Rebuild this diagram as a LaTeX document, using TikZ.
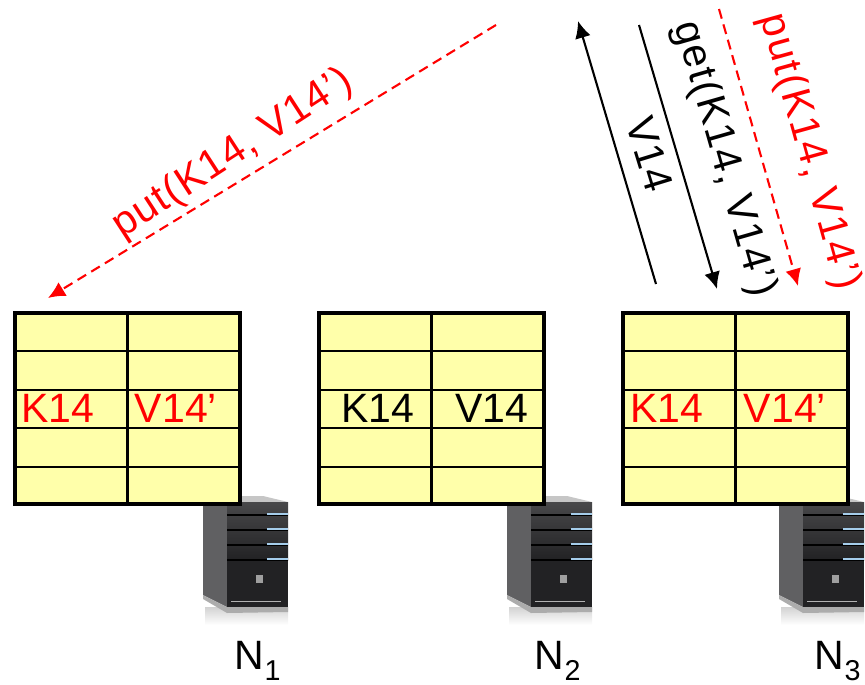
\documentclass[tikz,border=0pt]{standalone}
\usepackage{fontspec}
\setmainfont{Liberation Sans}
\usetikzlibrary{arrows.meta}
\definecolor{cellyellow}{RGB}{255,255,170}
\definecolor{srvdark}{RGB}{34,34,36}
\definecolor{srvmid}{RGB}{72,72,74}
\definecolor{srvside}{RGB}{96,96,98}
\definecolor{srvled}{RGB}{165,205,235}
\tikzset{
  lab/.style={font=\fontsize{41}{48}\selectfont,inner sep=0pt,anchor=center},
  red lab/.style={lab,text=red},
  wide lab/.style={lab,font=\fontsize{41}{48}\selectfont\addfontfeature{LetterSpace=3}},
  wide red lab/.style={wide lab,text=red},
  wider lab/.style={lab,font=\fontsize{41}{48}\selectfont\addfontfeature{LetterSpace=4.5}},
  wider red lab/.style={wider lab,text=red},
  tip/.style={-{Latex[length=17pt,width=16pt]}},
  arrow black/.style={tip,black,line width=2.1pt},
  arrow red/.style={tip,red,line width=2.1pt,dash pattern=on 10pt off 6pt},
  grid line/.style={black,line width=2.1pt},
  frame line/.style={black,line width=3.6pt},
  pics/dbtable/.style={code={
    \fill[cellyellow] (0,0) rectangle (225,191);
    \foreach \yy in {38,77,115,154} \draw[grid line] (0,\yy) -- (225,\yy);
    \draw[grid line] (112.5,0) -- (112.5,191);
    \draw[frame line] (0,0) rectangle (225,191);
  }},
  pics/srv/.style={code={
    % origin = top-left of the server image
    \shade[top color=gray!35,bottom color=white] (2,112) rectangle (85,130);
    \fill[gray!45] (0,8) -- (24,1) -- (60,1) -- (85,7) -- (24,8) -- cycle;
    \fill[srvside] (0,8) -- (24,8) -- (24,112) -- (0,100) -- cycle;
    \shade[top color=srvmid,bottom color=srvdark] (24,7) rectangle (85,65);
    \fill[srvdark] (24,65) rectangle (85,112);
    \fill[gray!65] (0,100) -- (24,112) -- (85,112) -- (85,117) -- (24,118) -- (0,104) -- cycle;
    \foreach \yy in {20,35,50,65} {
      \draw[black,line width=1.4pt] (24,\yy) -- (85,\yy);
      \draw[srvled,line width=2.6pt] (64,\yy-1) -- (85,\yy-1);
    }
    \fill[gray!75] (53,80) rectangle (60,88);
    \draw[gray!60,line width=1pt] (28,106) -- (78,106);
  }}
}
\begin{document}
\begin{tikzpicture}[x=1pt,y=-1pt]
\useasboundingbox (0,0) rectangle (865,685);
% servers (behind the tables)
\pic at (203,495) {srv};
\pic at (507,495) {srv};
\pic at (779,495) {srv};
% tables
\pic at (15,313) {dbtable};
\pic at (319,313) {dbtable};
\pic at (623,313) {dbtable};
% cell texts
\node[red lab] (k1) at (58,408) {K14};
\node[red lab] (v1) at (176,408) {V14’};
\node[lab] (k2) at (378,408) {K14};
\node[lab] (v2) at (492,408) {V14};
\node[red lab] (k3) at (667,408) {K14};
\node[red lab] (v3) at (785,408) {V14’};
% server labels
\node[lab] (n1) at (258,661) {N\textsubscript{1}};
\node[lab] (n2) at (558,661) {N\textsubscript{2}};
\node[lab] (n3) at (838,661) {N\textsubscript{3}};
% connector ends
\coordinate (a1) at (496,25);  \coordinate (a2) at (48,298);
\coordinate (b1) at (656,284); \coordinate (b2) at (578,21);
\coordinate (c1) at (639,25);  \coordinate (c2) at (717,289);
\coordinate (d1) at (719,9);   \coordinate (d2) at (798,286);
\draw[arrow red] (a1) -- (a2);
\draw[arrow black] (b1) -- (b2);
\draw[arrow black] (c1) -- (c2);
\draw[arrow red] (d1) -- (d2);
% rotated labels
\node[wide red lab,rotate=33] (p1) at (233,154) {put(K14, V14’)};
\node[wide lab,rotate=-73] (v14) at (650,154) {V14};
\node[wider lab,rotate=-74] (g) at (724,159) {get(K14, V14’)};
\node[wider red lab,rotate=-74.5] (p2) at (809,152) {put(K14, V14’)};
\end{tikzpicture}
\end{document}
